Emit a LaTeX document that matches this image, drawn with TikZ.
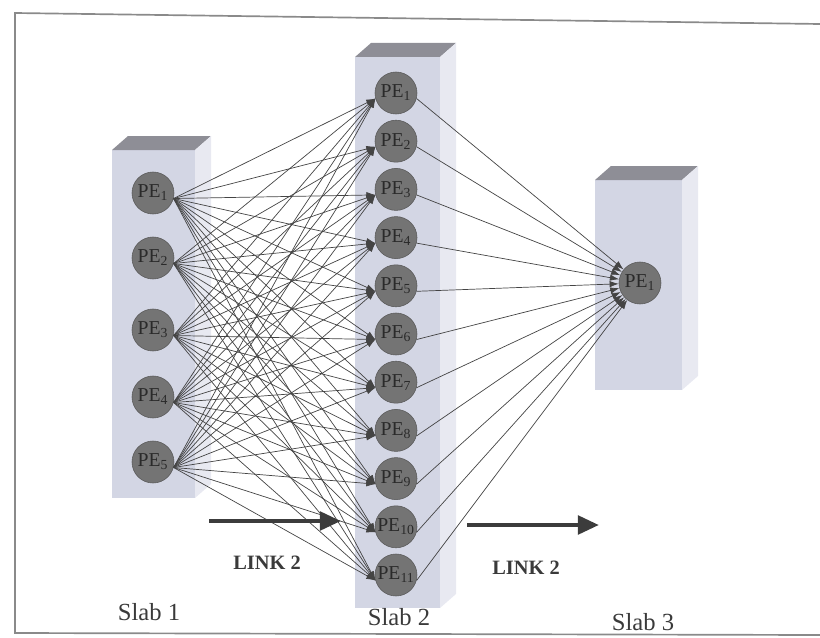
\documentclass[tikz,border=0pt]{standalone}
\usepackage{fontspec}
\setmainfont{Liberation Serif}
\usepackage{tikz}
\usetikzlibrary{arrows.meta}

\definecolor{slabfront}{HTML}{D3D6E4}
\definecolor{slabside}{HTML}{E8E9F1}
\definecolor{slabtop}{HTML}{8E8E96}
\definecolor{pefill}{HTML}{747474}
\definecolor{peedge}{HTML}{5A5A5A}
\definecolor{petext}{HTML}{2A2A2A}
\definecolor{linkgray}{HTML}{444444}
\definecolor{arrowgray}{HTML}{3C3C3C}
\definecolor{framegray}{HTML}{8A8A8A}
\definecolor{labelgray}{HTML}{3A3A3A}

\begin{document}
\begin{tikzpicture}[x=0.025cm, y=-0.025cm,
  pe/.style={circle, draw=peedge, fill=pefill, minimum size=1.05cm, inner sep=0pt, text=petext, font=\fontsize{14}{14}\selectfont},
  link/.style={-{Latex[length=6.5pt,width=4.5pt]}, draw=linkgray, line width=0.5pt},
  bigarrow/.style={-{Triangle[length=15pt,width=13pt]}, line width=3.2pt, draw=arrowgray},
  slablabel/.style={font=\fontsize{17.5}{20}\selectfont, text=labelgray},
  linklabel/.style={font=\bfseries\fontsize{14.5}{16}\selectfont, text=labelgray}
]
\useasboundingbox (0,0) rectangle (820,637);

% frame
\draw[framegray, line width=1.2pt] (820,24) -- (15,13) -- (15,633) -- (820,635);

% slabs: front, top, side
\foreach \xa/\xb/\ya/\yb in {112/195/150/498, 355/440/57/608, 595/682/180/390}{
  \fill[slabfront] (\xa,\ya) rectangle (\xb,\yb);
  \fill[slabtop] (\xa,\ya) -- (\xa+16,\ya-14) -- (\xb+16,\ya-14) -- (\xb,\ya) -- cycle;
  \fill[slabside] (\xb,\ya) -- (\xb+16,\ya-14) -- (\xb+16,\yb-14) -- (\xb,\yb) -- cycle;
}

% processing elements
\foreach \i/\y in {1/193, 2/258, 3/330, 4/397, 5/462}
  \node[pe] (a\i) at (153,\y) {PE\textsubscript{\i}};
\foreach \i in {1,...,11}
  \node[pe] (b\i) at (396,{93+48.2*(\i-1)}) {PE\textsubscript{\i}};
\node[pe] (c1) at (640,283) {PE\textsubscript{1}};

% connections
\foreach \i in {1,...,5}
  \foreach \j in {1,...,11}
    \draw[link] (a\i.-15) -- (b\j.195);
\foreach \j in {1,...,11}
  \draw[link] (b\j.-15) -- (c1);

% direction arrows
\coordinate (l1s) at (209,521);
\coordinate (l1e) at (341,521);
\coordinate (l2s) at (467,525);
\coordinate (l2e) at (599,525);
\draw[bigarrow] (l1s) -- (l1e);
\draw[bigarrow] (l2s) -- (l2e);

% labels
\node[linklabel] (link1) at (267,563) {LINK 2};
\node[linklabel] (link2) at (526,568) {LINK 2};
\node[slablabel] (lab1) at (149,612) {Slab 1};
\node[slablabel] (lab2) at (399,617) {Slab 2};
\node[slablabel] (lab3) at (643,622) {Slab 3};
\end{tikzpicture}
\end{document}
